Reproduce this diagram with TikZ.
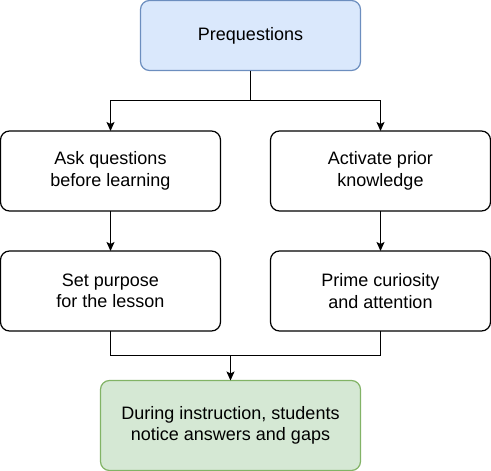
\documentclass[tikz,border=0pt]{standalone}
\usepackage{fontspec}
\setmainfont{Liberation Sans}
\usetikzlibrary{positioning,arrows.meta}
\definecolor{blueFill}{HTML}{DAE8FC}
\definecolor{blueLine}{HTML}{6C8EBF}
\definecolor{greenFill}{HTML}{D5E8D4}
\definecolor{greenLine}{HTML}{82B366}
\tikzset{
  stepbox/.style={draw,line width=1.2pt,rounded corners=9pt,minimum width=220pt,minimum height=80pt,
    inner sep=0pt,outer sep=0pt,align=center,font=\fontsize{18}{21.6}\selectfont},
  link/.style={line width=1.2pt},
  arrow/.style={link,-{Stealth[length=9pt,width=8pt,inset=2pt]}}
}
\begin{document}
\begin{tikzpicture}[x=1pt,y=-1pt,node distance=40pt]
  \useasboundingbox (0,0) rectangle (491,471);
  \node(prequestions)[stepbox,fill=blueFill,draw=blueLine,minimum height=70pt] at (250.5,35.5) {Prequestions};
  \node(ask)[stepbox] at (110.5,171) {Ask questions\\before learning};
  \node(activate)[stepbox,right=50pt of ask] {Activate prior\\knowledge};
  \node(purpose)[stepbox,below=of ask] {Set purpose\\for the lesson};
  \node(prime)[stepbox,below=of activate] {Prime curiosity\\and attention};
  \node(during)[stepbox,fill=greenFill,draw=greenLine,minimum width=260pt,minimum height=90pt] at (230.5,425.5) {During instruction, students\\notice answers and gaps};
  \coordinate(split) at (250.5,100.5);
  \coordinate(merge) at (230.5,355.5);
  \draw[link] (prequestions.south) -- (split);
  \draw[arrow] (split) -| (ask.north);
  \draw[arrow] (split) -| (activate.north);
  \draw[arrow] (ask) -- (purpose);
  \draw[arrow] (activate) -- (prime);
  \draw[link] (purpose.south) |- (merge) -| (prime.south);
  \draw[arrow] (merge) -- (during.north);
\end{tikzpicture}
\end{document}
